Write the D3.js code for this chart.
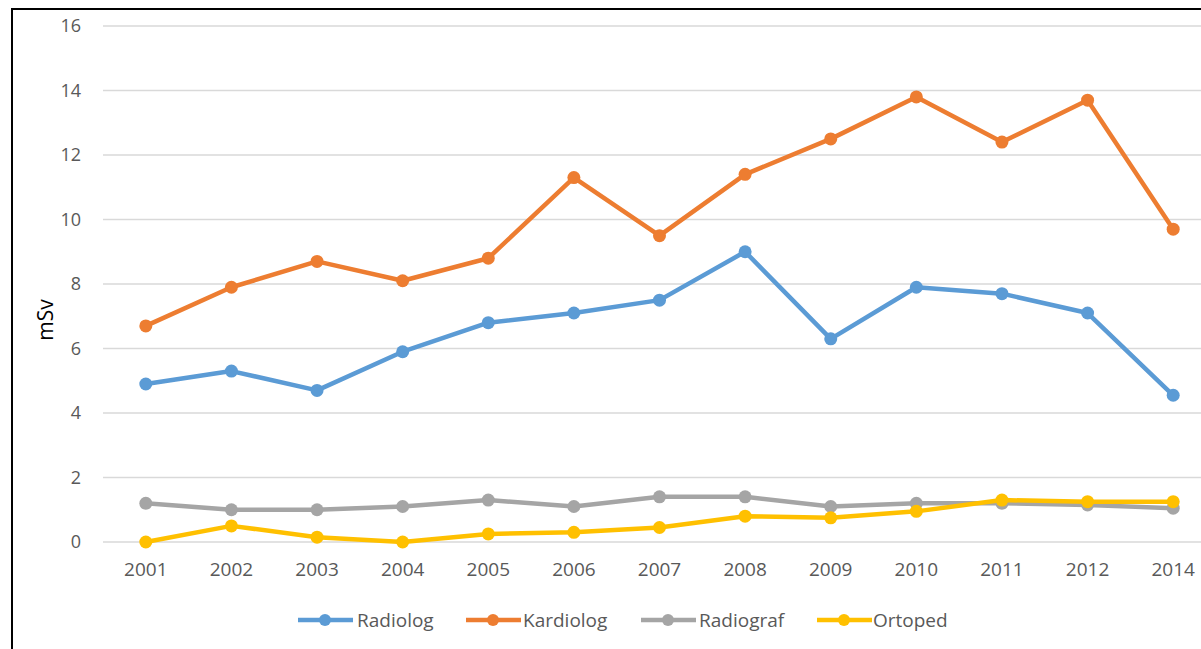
<!DOCTYPE html>
<html>
<head>
<meta charset="utf-8">
<script src="https://cdn.jsdelivr.net/npm/d3@7"></script>
<style>
  html, body { margin: 0; padding: 0; background: #fff; overflow: hidden; }
  svg { display: block; font-family: "Open Sans", "Noto Sans", sans-serif; }
</style>
</head>
<body>
<svg id="chart" width="1201" height="649"></svg>
<script>
// Annual effective dose per occupation group
const years = ["2001","2002","2003","2004","2005","2006","2007","2008","2009","2010","2011","2012","2014"];
const radiolog  = [4.9, 5.3, 4.7, 5.9, 6.8, 7.1, 7.5, 9.0, 6.3, 7.9, 7.7, 7.1, 4.55];
const kardiolog = [6.7, 7.9, 8.7, 8.1, 8.8, 11.3, 9.5, 11.4, 12.5, 13.8, 12.4, 13.7, 9.7];
const radiograf = [1.2, 1.0, 1.0, 1.1, 1.3, 1.1, 1.4, 1.4, 1.1, 1.2, 1.2, 1.15, 1.05];
const ortoped   = [0.0, 0.5, 0.15, 0.0, 0.25, 0.3, 0.45, 0.8, 0.75, 0.95, 1.3, 1.25, 1.25];
const seriesNames = ["Radiolog", "Kardiolog", "Radiograf", "Ortoped"];
const yTicks = [0, 2, 4, 6, 8, 10, 12, 14, 16];

const series = [
  { name: seriesNames[0], values: radiolog,  color: "#5B9BD5" },
  { name: seriesNames[1], values: kardiolog, color: "#ED7D31" },
  { name: seriesNames[2], values: radiograf, color: "#A5A5A5" },
  { name: seriesNames[3], values: ortoped,   color: "#FFC000" }
];

const svg = d3.select("#chart");

// outer frame
svg.append("rect")
  .attr("x", 12).attr("y", 9)
  .attr("width", 1260).attr("height", 700)
  .attr("fill", "#fff")
  .attr("stroke", "#000").attr("stroke-width", 2);

const plot = { left: 103, right: 1216, top: 26, bottom: 542 };

const x = d3.scaleBand().domain(years).range([plot.left, plot.right]);
const y = d3.scaleLinear().domain([0, 16]).range([plot.bottom, plot.top]);
const cx = d => x(d) + x.bandwidth() / 2;

// gridlines
svg.append("g")
  .selectAll("line")
  .data(yTicks)
  .join("line")
  .attr("x1", plot.left).attr("x2", plot.right)
  .attr("y1", d => y(d)).attr("y2", d => y(d))
  .attr("stroke", "#D9D9D9").attr("stroke-width", 1.3);

// y axis labels
const yAxis = d3.axisLeft(y).tickValues(yTicks).tickSize(0).tickPadding(0);
svg.append("g")
  .attr("transform", `translate(81,0)`)
  .call(yAxis)
  .call(g => g.select(".domain").remove())
  .call(g => g.selectAll("text")
    .attr("fill", "#595959")
    .attr("font-size", 18)
    .attr("font-family", "Open Sans, sans-serif"));

// x axis labels
const xAxis = d3.axisBottom(x).tickSize(0).tickPadding(0);
svg.append("g")
  .attr("transform", `translate(0,562)`)
  .call(xAxis)
  .call(g => g.select(".domain").remove())
  .call(g => g.selectAll("text")
    .attr("fill", "#595959")
    .attr("font-size", 19)
    .attr("font-family", "Open Sans, sans-serif"));

// y axis title
svg.append("text")
  .attr("transform", "translate(53,320) rotate(-90)")
  .attr("text-anchor", "middle")
  .attr("fill", "#000")
  .attr("font-size", 21)
  .text("mSv");

// series lines and markers
const line = d3.line()
  .x((d, i) => cx(years[i]))
  .y(d => y(d));

series.forEach(s => {
  const g = svg.append("g");
  g.append("path")
    .datum(s.values)
    .attr("d", line)
    .attr("fill", "none")
    .attr("stroke", s.color)
    .attr("stroke-width", 4.5)
    .attr("stroke-linejoin", "round")
    .attr("stroke-linecap", "round");
  g.selectAll("circle")
    .data(s.values)
    .join("circle")
    .attr("cx", (d, i) => cx(years[i]))
    .attr("cy", d => y(d))
    .attr("r", 6.5)
    .attr("fill", s.color);
});

// legend
const legendItems = [
  { x: 298, tx: 357 },
  { x: 466, tx: 523 },
  { x: 641, tx: 699 },
  { x: 817, tx: 873 }
];
const legend = svg.append("g");
series.forEach((s, i) => {
  const it = legendItems[i];
  const ly = 620;
  legend.append("line")
    .attr("x1", it.x).attr("x2", it.x + 55)
    .attr("y1", ly).attr("y2", ly)
    .attr("stroke", s.color).attr("stroke-width", 4.5);
  legend.append("circle")
    .attr("cx", it.x + 27).attr("cy", ly).attr("r", 6)
    .attr("fill", s.color);
  legend.append("text")
    .attr("x", it.tx).attr("y", ly + 7)
    .attr("fill", "#595959")
    .attr("font-size", 19)
    .text(s.name);
});
</script>
</body>
</html>
